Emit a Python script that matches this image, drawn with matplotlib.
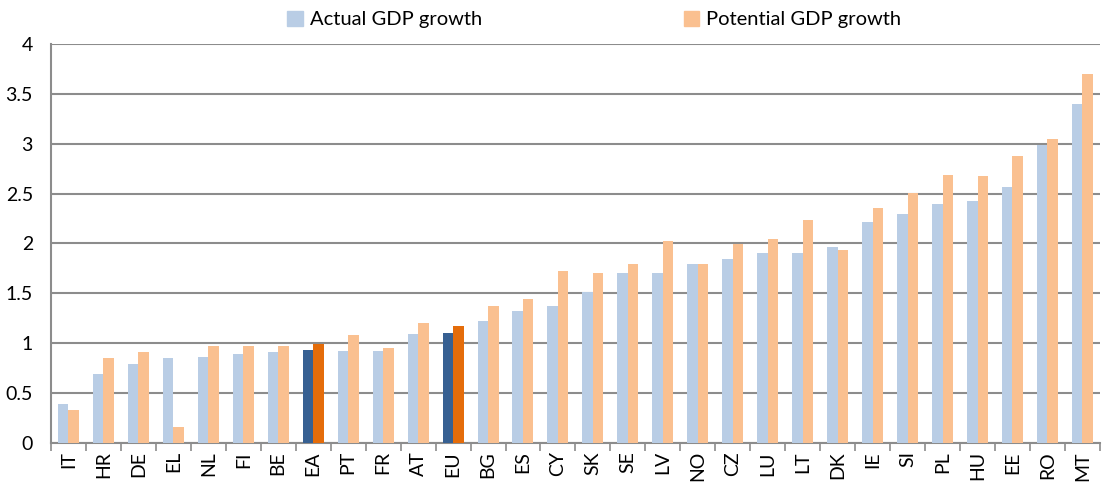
import numpy as np
import matplotlib.pyplot as plt
from matplotlib.patches import Patch

countries = ['IT', 'HR', 'DE', 'EL', 'NL', 'FI', 'BE', 'EA', 'PT', 'FR', 'AT', 'EU', 'BG', 'ES', 'CY',
             'SK', 'SE', 'LV', 'NO', 'CZ', 'LU', 'LT', 'DK', 'IE', 'SI', 'PL', 'HU', 'EE', 'RO', 'MT']
actual = [0.39, 0.69, 0.79, 0.85, 0.86, 0.89, 0.91, 0.93, 0.92, 0.92, 1.09, 1.10, 1.22, 1.32, 1.37,
          1.51, 1.70, 1.70, 1.79, 1.84, 1.90, 1.90, 1.96, 2.22, 2.30, 2.40, 2.43, 2.57, 2.99, 3.40]
potential = [0.33, 0.85, 0.91, 0.16, 0.97, 0.97, 0.97, 0.99, 1.08, 0.95, 1.20, 1.17, 1.37, 1.44, 1.72,
             1.70, 1.79, 2.02, 1.79, 1.99, 2.04, 2.24, 1.93, 2.36, 2.51, 2.69, 2.68, 2.88, 3.05, 3.70]
aggregates = ['EA', 'EU']

light_blue = '#B9CDE5'
light_orange = '#FAC090'
dark_blue = '#376092'
dark_orange = '#E46C0A'
grid_col = '#8C8C8C'

plt.rcParams['font.family'] = ['Lato', 'DejaVu Sans']

fig = plt.figure(figsize=(11.03, 4.84), dpi=100)
ax = fig.add_axes([0.0462, 0.085, 0.951, 0.824])

x = np.arange(len(countries))
w = 0.3
c1 = [dark_blue if c in aggregates else light_blue for c in countries]
c2 = [dark_orange if c in aggregates else light_orange for c in countries]
ax.bar(x - w / 2, actual, w, color=c1, zorder=3)
ax.bar(x + w / 2, potential, w, color=c2, zorder=3)

ax.set_xlim(-0.5, len(countries) - 0.5)
ax.set_ylim(0, 4)
ax.set_yticks(np.arange(0, 4.01, 0.5))
ax.set_yticklabels(['0', '0.5', '1', '1.5', '2', '2.5', '3', '3.5', '4'], fontsize=14)
ax.yaxis.grid(True, color=grid_col, linewidth=1.5, zorder=0)
ax.tick_params(axis='y', length=0, pad=13)

ax.set_xticks(x)
ax.set_xticklabels(countries, rotation=90, fontsize=14)
ax.set_xticks(np.arange(-0.5, len(countries), 1), minor=True)
ax.tick_params(axis='x', which='major', length=0, pad=6)
ax.tick_params(axis='x', which='minor', length=6, width=1.2, color=grid_col)

for s in ['top', 'right']:
    ax.spines[s].set_visible(False)
for s in ['left', 'bottom']:
    ax.spines[s].set_color(grid_col)
    ax.spines[s].set_linewidth(1.5)

handles = [Patch(color=light_blue, label='Actual GDP growth'),
           Patch(color=light_orange, label='Potential GDP growth')]
fig.legend(handles=handles, loc='upper center', bbox_to_anchor=(0.539, 1.015), ncol=2,
           frameon=False, fontsize=14.5, columnspacing=10.05, handlelength=0.75, handleheight=0.75,
           handletextpad=0.35)

fig.savefig('out.png', dpi=100)
